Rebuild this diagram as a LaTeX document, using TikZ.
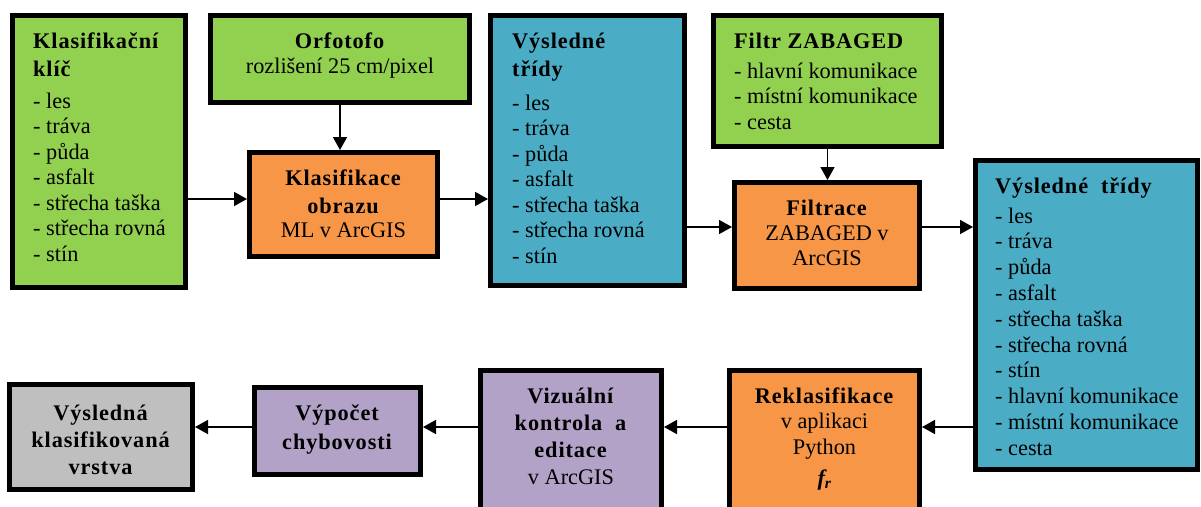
\documentclass[tikz,border=0pt]{standalone}
\usepackage{fontspec}
\setmainfont{Liberation Serif}[BoldFeatures={LetterSpace=4}]
\usetikzlibrary{arrows.meta}
\definecolor{cgreen}{HTML}{92D050}
\definecolor{corange}{HTML}{F79646}
\definecolor{cblue}{HTML}{4BACC6}
\definecolor{cpurple}{HTML}{B2A2C7}
\definecolor{cgray}{HTML}{BFBFBF}
\begin{document}
\begin{tikzpicture}[x=1pt,y=-1pt,
  box/.style={draw=black,line width=5pt,inner sep=0pt},
  lbl/.style={inner sep=0pt,font=\fontsize{22.3}{25.5}\selectfont},
  arr/.style={line width=1.5pt,-{Triangle[length=13pt,width=14pt]}}]
\useasboundingbox (0,0) rectangle (1201,506);
\clip (0,0) rectangle (1201,506);
% boxes
\node[box,fill=cgreen,minimum width=173pt,minimum height=272pt] (key) at (99,151.5) {};
\node[box,fill=cgreen,minimum width=259pt,minimum height=87pt] (orfo) at (340,59) {};
\node[box,fill=corange,minimum width=188pt,minimum height=104pt] (klas) at (343.5,204.5) {};
\node[box,fill=cblue,minimum width=194pt,minimum height=270pt] (vys1) at (587.5,150.5) {};
\node[box,fill=cgreen,minimum width=228pt,minimum height=131pt] (filtr) at (827.5,81) {};
\node[box,fill=corange,minimum width=185pt,minimum height=106pt] (filtrace) at (827,235.5) {};
\node[box,fill=cblue,minimum width=222pt,minimum height=309pt] (vys2) at (1086.5,315) {};
\node[box,fill=cgray,minimum width=183pt,minimum height=105pt] (final) at (101,437) {};
\node[box,fill=cpurple,minimum width=166pt,minimum height=87pt] (vypocet) at (337.5,431) {};
\node[box,fill=cpurple,minimum width=181pt,minimum height=157pt] (vizual) at (571,449) {};
\node[box,fill=corange,minimum width=190pt,minimum height=157pt] (reklas) at (824.5,449) {};
% texts
\node[lbl,anchor=base west] (tkey) at (33,48) {\begin{tabular}[t]{@{}l@{}}\textbf{Klasifikační}\\[2.5pt]\textbf{klíč}\\[6.5pt]- les\\- tráva\\- půda\\- asfalt\\- střecha taška\\- střecha rovná\\- stín\end{tabular}};
\node[lbl,anchor=base] (torfo) at (340,48) {\begin{tabular}[t]{@{}c@{}}\textbf{Orfotofo}\\[-0.5pt]rozlišení 25 cm/pixel\end{tabular}};
\node[lbl,anchor=base] (tklas) at (343.5,185) {\begin{tabular}[t]{@{}c@{}}\textbf{Klasifikace}\\[2.5pt]\textbf{obrazu}\\[-1.5pt]ML v ArcGIS\end{tabular}};
\node[lbl,anchor=base west] (tvys1) at (512,48) {\begin{tabular}[t]{@{}l@{}}\textbf{Výsledné}\\[2.5pt]\textbf{třídy}\\[8.5pt]- les\\- tráva\\- půda\\- asfalt\\- střecha taška\\- střecha rovná\\- stín\end{tabular}};
\node[lbl,anchor=base west] (tfiltr) at (734,48) {\begin{tabular}[t]{@{}l@{}}\textbf{Filtr ZABAGED}\\[4.5pt]- hlavní komunikace\\- místní komunikace\\- cesta\end{tabular}};
\node[lbl,anchor=base] (tfiltrace) at (827,215) {\begin{tabular}[t]{@{}c@{}}\textbf{Filtrace}\\[-0.5pt]ZABAGED v\\[-0.5pt]ArcGIS\end{tabular}};
\node[lbl,anchor=base west] (tvys2) at (995,193) {\begin{tabular}[t]{@{}l@{}}\textbf{Výsledné\ \ třídy}\\[4.5pt]- les\\[0.3pt]- tráva\\[0.3pt]- půda\\[0.3pt]- asfalt\\[0.3pt]- střecha taška\\[0.3pt]- střecha rovná\\[0.3pt]- stín\\[0.3pt]- hlavní komunikace\\[0.3pt]- místní komunikace\\[0.3pt]- cesta\end{tabular}};
\node[lbl,anchor=base] (tfinal) at (101,420) {\begin{tabular}[t]{@{}c@{}}\textbf{Výsledná}\\[1.5pt]\textbf{klasifikovaná}\\[1.5pt]\textbf{vrstva}\end{tabular}};
\node[lbl,anchor=base] (tvypocet) at (337.5,420) {\begin{tabular}[t]{@{}c@{}}\textbf{Výpočet}\\[3.5pt]\textbf{chybovosti}\end{tabular}};
\node[lbl,anchor=base] (tvizual) at (571,403) {\begin{tabular}[t]{@{}c@{}}\textbf{Vizuální}\\[1.5pt]\textbf{kontrola\ \ a}\\[1.5pt]\textbf{editace}\\[1.5pt]v ArcGIS\end{tabular}};
\node[lbl,anchor=base] (treklas) at (824.5,403) {\begin{tabular}[t]{@{}c@{}}\textbf{Reklasifikace}\\[-0.5pt]v aplikaci\\[0.5pt]Python\\[5.5pt]\textbf{\textit{f\textsubscript{r}}}\end{tabular}};
% connector levels
\coordinate (r1) at (0,199);
\coordinate (r2) at (0,227);
\coordinate (r3) at (0,427);
% connectors
\draw[arr] (key.east |- r1) -- (klas.west |- r1);
\draw[arr] (orfo.south) -- (orfo.south |- klas.north);
\draw[arr] (klas.east |- r1) -- (vys1.west |- r1);
\draw[arr] (vys1.east |- r2) -- (filtrace.west |- r2);
\draw[arr] (filtr.south) -- (filtr.south |- filtrace.north);
\draw[arr] (filtrace.east |- r2) -- (vys2.west |- r2);
\draw[arr] (vys2.west |- r3) -- (reklas.east |- r3);
\draw[arr] (reklas.west |- r3) -- (vizual.east |- r3);
\draw[arr] (vizual.west |- r3) -- (vypocet.east |- r3);
\draw[arr] (vypocet.west |- r3) -- (final.east |- r3);
\end{tikzpicture}
\end{document}
